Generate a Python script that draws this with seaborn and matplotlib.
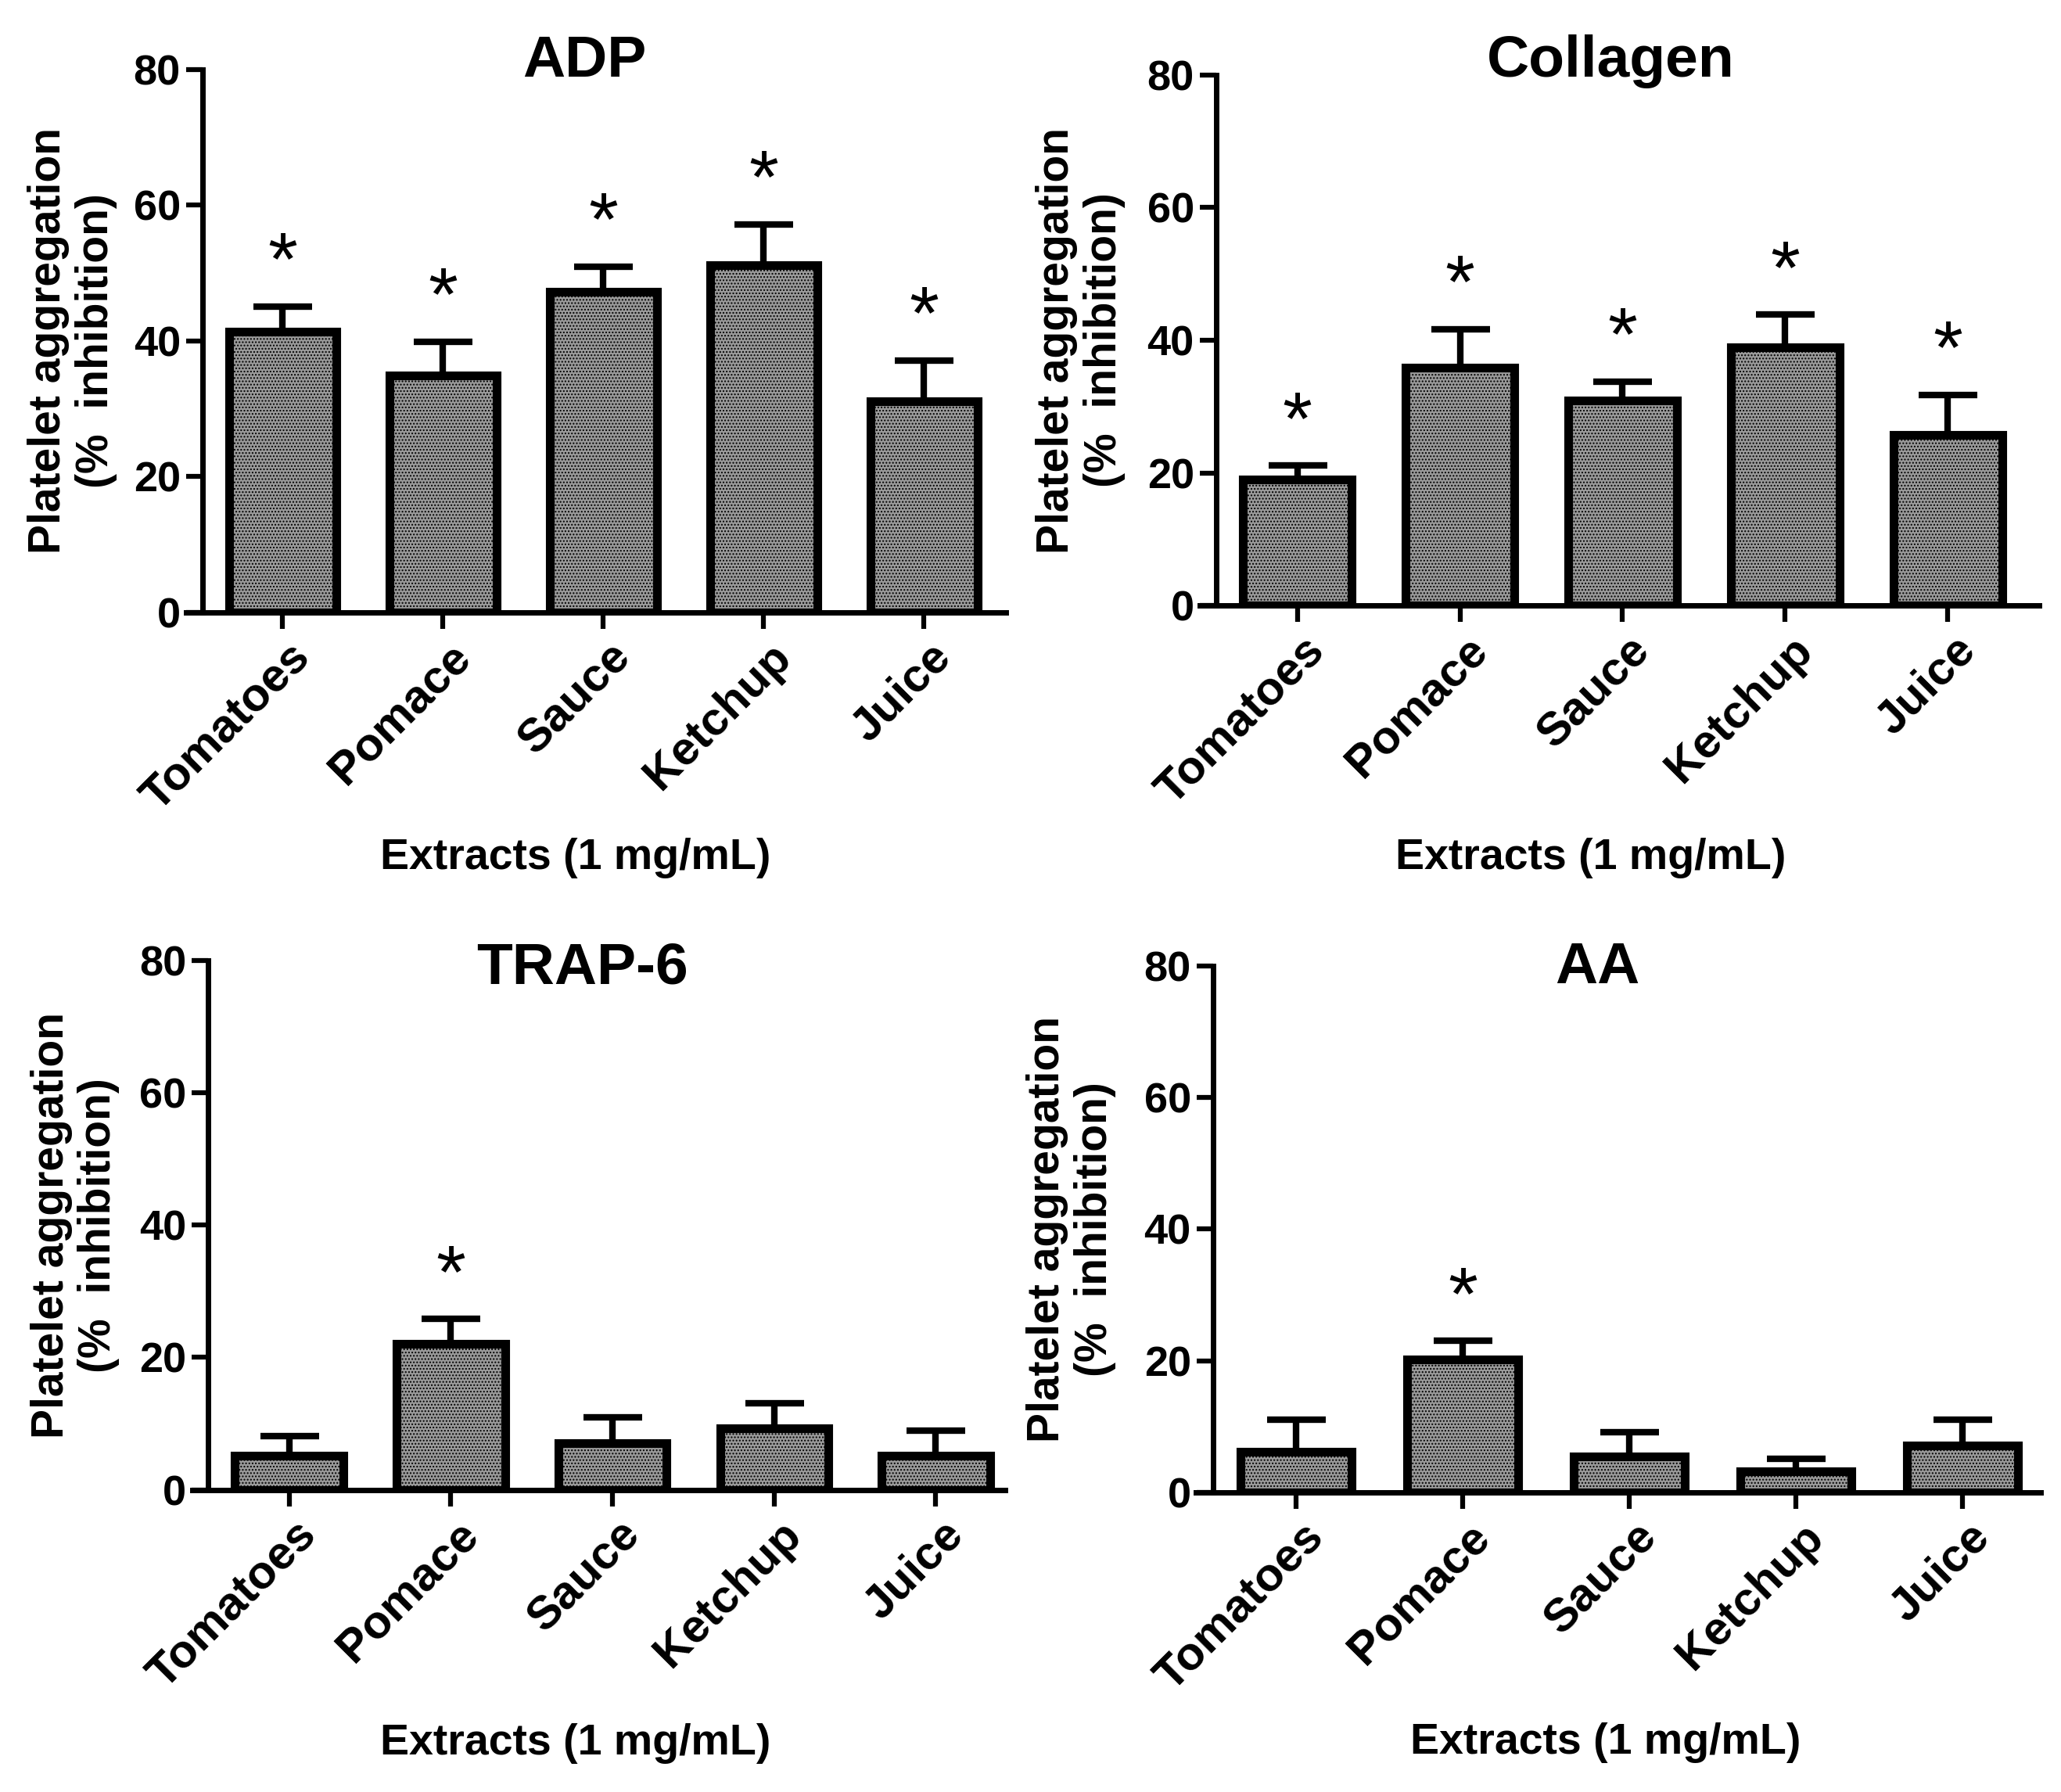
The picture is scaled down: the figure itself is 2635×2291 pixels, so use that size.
import numpy as np
import pandas as pd
import matplotlib
matplotlib.use("Agg")
import matplotlib.pyplot as plt
import matplotlib.transforms as mtransforms
import seaborn as sns

# data (% inhibition, mean and upper SEM)
extracts = ["Tomatoes", "Pomace", "Sauce", "Ketchup", "Juice"]
agonists = ["ADP", "Collagen", "TRAP-6", "AA"]

adp_mean = [41.3, 34.9, 47.2, 51.2, 31.1]
adp_err = [3.8, 5.0, 3.7, 6.0, 6.0]
collagen_mean = [19.0, 35.9, 30.9, 38.9, 25.7]
collagen_err = [2.1, 5.8, 2.9, 5.0, 6.1]
trap6_mean = [5.2, 22.1, 7.1, 9.3, 5.2]
trap6_err = [2.9, 3.7, 3.8, 3.8, 3.8]
aa_mean = [6.2, 20.2, 5.4, 3.2, 7.1]
aa_err = [4.9, 2.8, 3.7, 1.9, 4.0]

adp_sig = [True, True, True, True, True]
collagen_sig = [True, True, True, True, True]
trap6_sig = [False, True, False, False, False]
aa_sig = [False, True, False, False, False]

y_ticks = [0, 20, 40, 60, 80]

sns.set_style("ticks")
plt.rcParams['font.family'] = ['Liberation Sans', 'DejaVu Sans']
plt.rcParams['font.weight'] = 'bold'
for key in ['text.color', 'axes.labelcolor', 'xtick.color', 'ytick.color', 'axes.edgecolor']:
    plt.rcParams[key] = 'black'

fig = plt.figure(figsize=(26.35, 22.91), dpi=100)

panels = [
    (agonists[0], adp_mean, adp_err, adp_sig),
    (agonists[1], collagen_mean, collagen_err, collagen_sig),
    (agonists[2], trap6_mean, trap6_err, trap6_sig),
    (agonists[3], aa_mean, aa_err, aa_sig),
]

# axes boxes [left, bottom, width, height], right x-limit, title / label spots
boxes = [
    [0.0904, 0.6584, 0.3976, 0.3028],
    [0.5821, 0.6620, 0.4072, 0.2962],
    [0.0932, 0.1686, 0.3946, 0.2955],
    [0.5804, 0.1672, 0.4098, 0.2939],
]
x_right = [4.51, 4.56, 4.43, 4.47]
title_pos = [(0.486, 1.015), (0.490, 1.025), (0.480, 0.985), (0.475, 0.995)]
xlabel_pos = [(0.475, -0.453), (0.466, -0.475), (0.471, -0.479), (0.485, -0.476)]
ylabel_x = [-0.139, -0.142, -0.144, -0.148]

for i, (name, means, errs, sig) in enumerate(panels):
    ax = fig.add_axes(boxes[i])
    ax.set_facecolor('none')
    df = pd.DataFrame({'extract': extracts, 'value': means})

    sns.barplot(
        data=df, x='extract', y='value',
        color='#9a9a9a', saturation=1,
        edgecolor='black', linewidth=8,
        hatch='....', width=0.67,
        errorbar=None, ax=ax, zorder=2,
    )

    xs = np.arange(len(extracts))
    ax.errorbar(
        xs, means, yerr=[np.zeros(len(errs)), errs],
        fmt='none', ecolor='black', elinewidth=6,
        capsize=27, capthick=6, zorder=3,
    )

    # significance marks
    for x, m, e, s in zip(xs, means, errs, sig):
        if s:
            ax.text(x, m + e + 3.2, "*", ha='center', va='baseline',
                    fontsize=70, fontweight='normal', color='black')

    ax.set_ylim(0, 80)
    ax.set_xlim(-0.6, x_right[i])
    ax.set_yticks(y_ticks)

    # GraphPad-like axes
    sns.despine(ax=ax)
    ax.spines['left'].set_position(('data', -0.5))
    ax.spines['left'].set_linewidth(5)
    ax.spines['bottom'].set_linewidth(5)
    ax.tick_params(axis='y', length=15, width=4.5, labelsize=39, pad=5)
    ax.tick_params(axis='x', length=15, width=4.5, labelsize=43, pad=20)

    offset = mtransforms.ScaledTranslation(0.26, 0, fig.dpi_scale_trans)
    for lab in ax.get_xticklabels():
        lab.set_rotation(45)
        lab.set_ha('right')
        lab.set_va('center')
        lab.set_rotation_mode('anchor')
        lab.set_transform(lab.get_transform() + offset)

    ax.set_ylabel("Platelet aggregation\n(%  inhibition)", fontsize=41,
                  fontweight='bold', linespacing=1.15)
    ax.yaxis.set_label_coords(ylabel_x[i], 0.5)
    ax.yaxis.label.set_va('center')

    ax.set_xlabel("Extracts (1 mg/mL)", fontsize=40, fontweight='bold')
    ax.xaxis.set_label_coords(*xlabel_pos[i])
    ax.xaxis.label.set_va('center')

    ax.text(title_pos[i][0], title_pos[i][1], name, transform=ax.transAxes,
            ha='center', va='center', fontsize=54, fontweight='bold')

fig.savefig("out.png", dpi=100, facecolor='white')
